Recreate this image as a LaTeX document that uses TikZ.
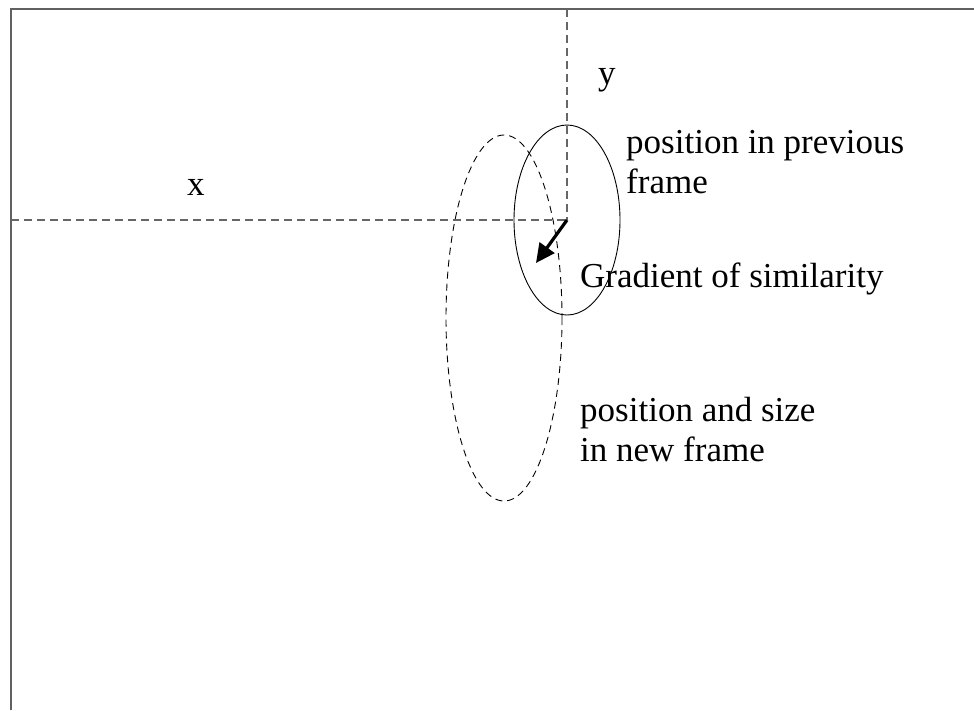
\documentclass[tikz,border=0pt]{standalone}
\usepackage{fontspec}
\setmainfont{Liberation Serif}
\usetikzlibrary{arrows.meta}
\begin{document}
\begin{tikzpicture}[x=1pt,y=-1pt,
  framel/.style={draw=black!62,line width=2pt},
  axisl/.style={draw=black!60,line width=1.2pt,dash pattern=on 8pt off 5pt},
  oldpos/.style={draw=black,line width=0.9pt},
  newpos/.style={draw=black,line width=0.9pt,dash pattern=on 7pt off 5pt},
  lbl/.style={font=\fontsize{35}{40}\selectfont,inner sep=0pt,anchor=base west,align=left},
  grad/.style={line width=3.2pt,-{Triangle[length=19pt,width=18pt]}}]
\useasboundingbox (0,0) rectangle (974,710);
\coordinate (tl) at (11,9);
\coordinate (bl) at (11,710);
\coordinate (tr) at (974,9);
\coordinate (c) at (567,220);
\coordinate (ytop) at (567,9);
\coordinate (xleft) at (11,220);
\coordinate (g) at (536,263);
\coordinate (nc) at (504,318);
\draw[framel] (bl) -- (tl) -- (tr);
\draw[axisl] (xleft) -- (c);
\draw[axisl] (ytop) -- (c);
\draw[oldpos] (c) ellipse [x radius=53, y radius=95];
\draw[newpos] (nc) ellipse [x radius=58, y radius=183];
\draw[grad] (c) -- (g);
\node[lbl] (xl) at (187,195) {x};
\node[lbl] (yl) at (598,84) {y};
\node[lbl] (prev) at (626,193) {position in previous\\frame};
\node[lbl] (gr) at (580,287) {Gradient of similarity};
\node[lbl] (new) at (580,461) {position and size\\in new frame};
\end{tikzpicture}
\end{document}
